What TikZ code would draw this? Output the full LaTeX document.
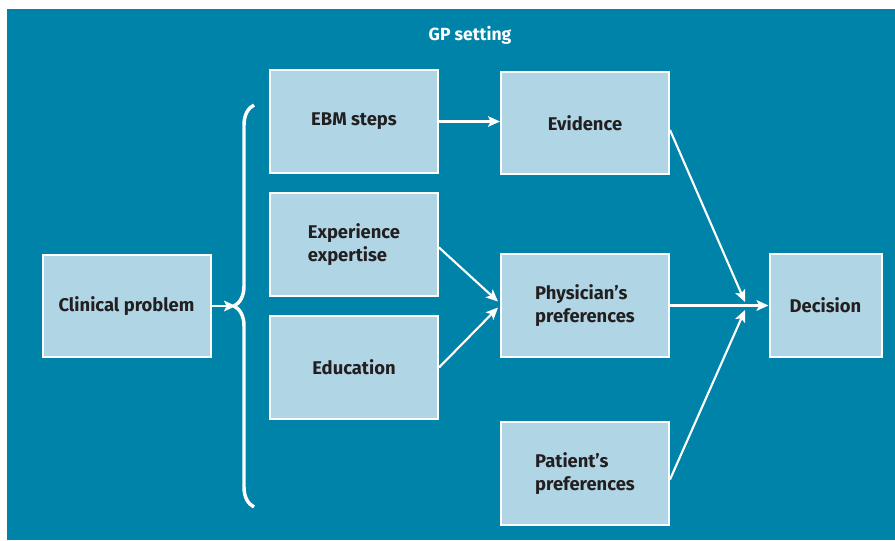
\documentclass[tikz,border=0pt]{standalone}
\usepackage{fontspec}
\setmainfont{Fira Sans}
\usepackage{tikz}
\usetikzlibrary{arrows.meta,calc,decorations.pathreplacing}
\definecolor{gpteal}{RGB}{0,131,168}
\definecolor{boxblue}{RGB}{176,214,230}
\definecolor{boxtext}{RGB}{35,31,32}

\begin{document}
\begin{tikzpicture}[x=0.75pt,y=-0.75pt,
  box/.style={draw=white,line width=1.5pt,fill=boxblue,text=boxtext,
    font=\bfseries\fontsize{13.8}{17.5}\selectfont,align=left,
    minimum width=126pt,minimum height=77pt,inner sep=0pt},
  arr/.style={draw=white,line width=1.6pt,-{Stealth[length=9pt,width=8pt,inset=2pt]}}]

\useasboundingbox (0,0) rectangle (895,540);
\fill[gpteal] (7,9) rectangle (895,540);

\node[text=white,font=\bfseries\fontsize{13.2}{15}\selectfont] (title) at (470,35) {GP setting};

\node[box] (cp) at (126.5,306) {Clinical problem};
\node[box] (ebm) at (354,121.5) {EBM steps};
\node[box] (exp) at (354,244.5) {Experience\\expertise};
\node[box] (edu) at (354,367.5) {Education};
\node[box] (evi) at (585,123) {Evidence};
\node[box] (phy) at (585,305.5) {Physician's\\preferences};
\node[box] (pat) at (585,473.5) {Patient's\\preferences};
\node[box,minimum width=84pt] (dec) at (825.5,305.5) {Decision};

\coordinate (tip) at (236,306);
\coordinate (m1) at (745,302);
\coordinate (m2) at (745,310);

\draw[white,line width=2.6pt,decorate,decoration={brace,amplitude=15pt}]
  (254,507) -- (254,105);

\draw[arr] (cp) -- (tip);
\draw[arr] (ebm) -- (ebm -| evi.west);
\draw[arr] ($(exp.east)+(0,3)$) -- ($(phy.west)+(-2,-4)$);
\draw[arr] (edu.east) -- ($(phy.west)+(-2,2)$);
\draw[arr] ($(evi.east)+(0,7)$) -- (m1);
\draw[arr] (phy) -- (dec);
\draw[arr] ($(pat.east)+(0,6)$) -- (m2);

\end{tikzpicture}
\end{document}
